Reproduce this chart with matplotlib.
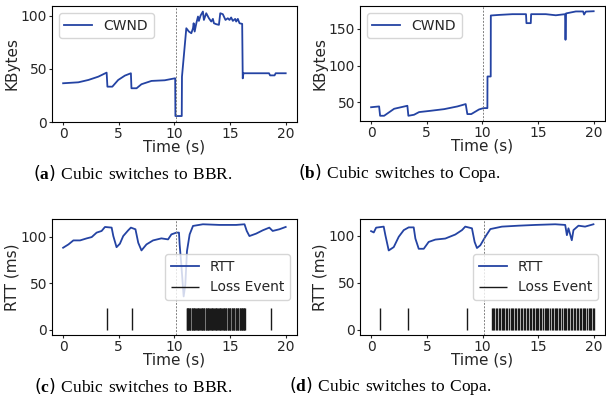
import matplotlib
matplotlib.use("Agg")
import matplotlib.pyplot as plt

plt.rcParams['font.family'] = ['DejaVu Sans']
plt.rcParams['mathtext.fontset'] = 'custom'
plt.rcParams['mathtext.rm'] = 'Liberation Serif'
plt.rcParams['mathtext.bf'] = 'Liberation Serif:bold'
plt.rcParams['text.color'] = '.15'
plt.rcParams['axes.labelcolor'] = '.15'
plt.rcParams['xtick.color'] = '.15'
plt.rcParams['ytick.color'] = '.15'

# (a) CWND, Cubic -> BBR
bbr_cwnd_t = [0, 1.37, 2.27, 3.16, 3.91, 3.98, 4.42, 4.95, 5.55, 6.09, 6.14, 6.6, 7.04, 7.94, 9.13, 10.07,
              10.09, 10.66, 10.68, 11.07, 11.3, 11.52, 11.67, 11.73, 11.82, 11.97, 12.12, 12.2, 12.35, 12.56,
              12.65, 12.86, 13.1, 13.31, 13.46, 13.55, 13.76, 14.0, 14.12, 14.35, 14.59, 14.8, 14.95, 15.1,
              15.25, 15.46, 15.55, 15.7, 15.85, 16.09, 16.14, 16.2, 16.3, 17.5, 18.5, 18.6, 19.0, 19.1, 20.0]
bbr_cwnd_kb = [36.4, 37.3, 39.5, 42.6, 46.4, 33.2, 33.2, 39.5, 43.6, 45.8, 31.7, 31.7, 35.5, 38.6, 39.2, 41.1,
               5.6, 5.6, 42.6, 88.1, 85.0, 83.4, 88.1, 92.8, 85.0, 92.8, 99.1, 95.0, 100.0, 103.8,
               95.9, 102.2, 97.5, 94.4, 96.9, 92.8, 91.9, 91.3, 102.2, 101.3, 95.9, 97.5, 95.9, 98.2,
               95.0, 96.9, 94.4, 96.9, 92.8, 92.2, 41.0, 45.8, 45.8, 45.8, 45.8, 43.8, 43.8, 45.8, 45.8]

# (b) CWND, Cubic -> Copa
copa_cwnd_t = [0, 0.72, 0.81, 1.17, 2.07, 3.26, 3.35, 3.86, 4.31, 5.36, 6.56, 7.76, 8.5, 8.65, 9.0, 9.7,
               10.1, 10.45, 10.46, 10.75, 10.76, 11.5, 12.7, 13.92, 13.96, 14.35, 14.38, 15.7, 16.6, 17.43,
               17.47, 17.52, 17.64, 18.4, 19.05, 19.14, 19.3, 20.0]
copa_cwnd_kb = [43.5, 44.6, 31.9, 31.9, 41.4, 45.5, 31.9, 33.3, 36.9, 38.7, 40.9, 44.6, 47.8, 34.2, 34.2, 40.5,
                42.3, 42.3, 85.3, 85.3, 168.2, 169.0, 170.0, 170.0, 157.8, 157.8, 170.0, 170.0, 168.5, 170.0,
                135.2, 171.0, 171.4, 173.7, 173.7, 169.5, 173.5, 174.0]

# (c) RTT, Cubic -> BBR
bbr_rtt_t = [0, 0.48, 0.92, 1.52, 2.12, 2.57, 3.01, 3.46, 3.76, 4.36, 4.51, 4.8, 5.1, 5.4, 5.85, 6.09, 6.5,
             6.75, 7.04, 7.49, 8.08, 8.83, 9.43, 9.73, 10.18, 10.41, 10.47, 10.62, 10.83, 10.98, 11.13, 11.37,
             11.67, 12.56, 14.05, 15.55, 16.3, 16.5, 16.74, 17.34, 17.94, 18.53, 18.83, 19.43, 20.0]
bbr_rtt_ms = [88.4, 92.0, 96.3, 96.3, 98.5, 99.9, 104.7, 106.5, 110.8, 110.1, 101.0, 89.0, 92.7, 101.0, 107.2,
              110.1, 108.3, 93.8, 85.5, 92.0, 96.3, 98.5, 97.4, 102.8, 104.7, 104.7, 92.0, 70.3, 35.9, 48.6,
              84.8, 102.8, 111.9, 113.7, 113.0, 113.0, 113.7, 106.5, 101.0, 103.6, 107.2, 110.1, 106.5, 108.3, 110.8]
bbr_loss_t = [3.97, 6.15,
              11.10, 11.15, 11.20, 11.26, 11.31, 11.36, 11.42, 11.55, 11.60, 11.66, 11.72, 11.78, 11.84, 11.90,
              12.02, 12.08, 12.14, 12.20, 12.26, 12.38, 12.44, 12.50, 12.56, 12.62, 12.68, 12.80, 12.86, 12.92,
              12.98, 13.04, 13.10, 13.22, 13.28, 13.34, 13.40, 13.46, 13.58, 13.64, 13.70, 13.76, 13.82, 13.88,
              14.00, 14.06, 14.12, 14.18, 14.24, 14.36, 14.42, 14.48, 14.54, 14.60, 14.66, 14.78, 14.84, 14.90,
              14.96, 15.02, 15.14, 15.20, 15.26, 15.32, 15.38, 15.50, 15.56, 15.62, 15.68, 15.74, 15.86, 15.92,
              15.98, 16.04, 16.10, 16.16, 16.22, 16.28, 16.34, 18.7]

# (d) RTT, Cubic -> Copa
copa_rtt_t = [0, 0.24, 0.45, 1.13, 1.28, 1.58, 2.03, 2.48, 2.93, 3.37, 3.82, 3.97, 4.27, 4.72, 5.16, 5.76,
              6.65, 7.55, 8.15, 8.44, 9.04, 9.28, 9.49, 9.79, 10.24, 10.69, 11.73, 13.22, 14.71, 16.5, 17.4,
              17.55, 17.69, 17.99, 18.14, 18.59, 19.18, 19.93]
copa_rtt_ms = [105.0, 103.6, 108.7, 109.8, 100.7, 84.4, 88.0, 99.0, 106.1, 109.0, 109.0, 97.1, 86.2, 86.2,
               93.5, 96.0, 97.1, 101.4, 106.1, 109.8, 108.0, 93.5, 87.0, 89.9, 99.0, 107.2, 109.8, 110.8,
               111.6, 112.3, 111.6, 100.7, 108.0, 95.3, 106.1, 110.8, 109.8, 112.3]
copa_loss_t = [0.78, 3.32, 8.59,
               10.85, 10.95, 11.05, 11.2, 11.3, 11.45, 11.55, 11.7, 11.85, 11.95, 12.1, 12.2, 12.35, 12.5,
               12.6, 12.75, 12.9, 13.0, 13.15, 13.3, 13.4, 13.55, 13.7, 13.8, 13.95, 14.1, 14.2, 14.35, 14.5,
               14.6, 14.75, 14.85, 15.0, 15.15, 15.25, 15.4, 15.55, 15.65, 15.8, 15.9, 16.05, 16.2, 16.3,
               16.45, 16.6, 16.7, 16.85, 16.95, 17.1, 17.25, 17.35, 17.5, 17.65, 17.75, 17.9, 18.05, 18.15,
               18.3, 18.45, 18.55, 18.7, 18.8, 18.95, 19.1, 19.2, 19.35, 19.5, 19.6, 19.75, 19.85, 19.95]

switch_t = 10.1
loss_height = 23
blue = '#2443a3'

fig = plt.figure(figsize=(6.06, 4.0), dpi=100)
ax_a = fig.add_axes([0.0858, 0.695, 0.404, 0.29])
ax_b = fig.add_axes([0.594, 0.6975, 0.404, 0.2875])
ax_c = fig.add_axes([0.0858, 0.1625, 0.404, 0.29])
ax_d = fig.add_axes([0.594, 0.1625, 0.404, 0.29])

# CWND panels
for ax, t, v, yt in [(ax_a, bbr_cwnd_t, bbr_cwnd_kb, [0, 50, 100]),
                     (ax_b, copa_cwnd_t, copa_cwnd_kb, [50, 100, 150])]:
    ax.plot(t, v, color=blue, lw=1.3, label='CWND')
    ax.axvline(switch_t, color='gray', ls='--', lw=0.7, dashes=(2, 1.5))
    ax.set_yticks(yt)
    ax.set_xticks([0, 5, 10, 15, 20])
    ax.set_ylabel('KBytes', fontsize=11, labelpad=1)
    ax.set_xlabel('Time (s)', fontsize=11, labelpad=-1)
    ax.tick_params(labelsize=10, length=2.5, pad=1)
    ax.legend(loc='upper left', fontsize=10)
ax_a.set_ylim(0, 109)

# RTT panels
for ax, t, v, lt in [(ax_c, bbr_rtt_t, bbr_rtt_ms, bbr_loss_t),
                     (ax_d, copa_rtt_t, copa_rtt_ms, copa_loss_t)]:
    ax.plot(t, v, color=blue, lw=1.3, label='RTT')
    ax.vlines(lt, 0, loss_height, color='#1a1a1a', lw=1.0, label='Loss Event')
    ax.axvline(switch_t, color='gray', ls='--', lw=0.7, dashes=(2, 1.5))
    ax.set_yticks([0, 50, 100])
    ax.set_xticks([0, 5, 10, 15, 20])
    ax.set_ylabel('RTT (ms)', fontsize=11, labelpad=1)
    ax.set_xlabel('Time (s)', fontsize=11, labelpad=-1)
    ax.tick_params(labelsize=10, length=2.5, pad=1)
    ax.legend(loc='center right', fontsize=10)

# captions
fig.text(0.2195, 0.5675, r'($\mathbf{a}$)$\mathrm{\ Cubic\ switches\ to\ BBR.}$', ha='center', va='center', fontsize=12.5, color='black')
fig.text(0.658, 0.5675, r'($\mathbf{b}$)$\mathrm{\ Cubic\ switches\ to\ Copa.}$', ha='center', va='center', fontsize=12.5, color='black')
fig.text(0.2195, 0.035, r'($\mathbf{c}$)$\mathrm{\ Cubic\ switches\ to\ BBR.}$', ha='center', va='center', fontsize=12.5, color='black')
fig.text(0.644, 0.035, r'($\mathbf{d}$)$\mathrm{\ Cubic\ switches\ to\ Copa.}$', ha='center', va='center', fontsize=12.5, color='black')

fig.savefig('out.png', dpi=100)
